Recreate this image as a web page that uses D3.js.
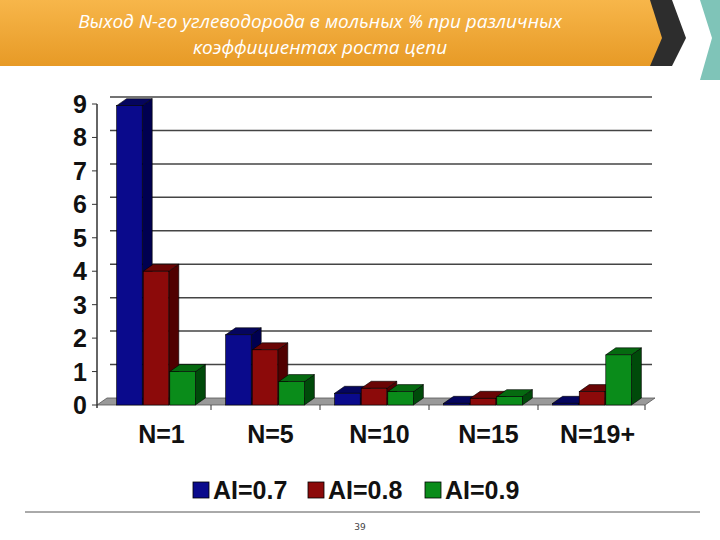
<!DOCTYPE html>
<html><head><meta charset="utf-8">
<script src="https://cdn.jsdelivr.net/npm/d3@7"></script>
<style>body{margin:0;background:#fff}svg{display:block}</style>
</head><body>
<svg id="c" width="720" height="540"></svg>
<script>
const categories = ["N=1", "N=5", "N=10", "N=15", "N=19+"];
const seriesNames = ["Al=0.7", "Al=0.8", "Al=0.9"];
const al07 = [8.95, 2.1, 0.35, 0.05, 0.05];
const al08 = [4.0, 1.65, 0.5, 0.2, 0.4];
const al09 = [1.0, 0.7, 0.4, 0.25, 1.5];
const yTicks = [0, 1, 2, 3, 4, 5, 6, 7, 8, 9];
const colors = [["#0a0a8c", "#000050", "#05055e"], ["#8c0a0a", "#500000", "#6a0505"], ["#0a8c1a", "#004a0a", "#056a10"]];

const svg = d3.select("#c");
const dx = 10, dy = 7;

// header banner
const hdr = svg.append("g");
const grad = svg.append("defs").append("linearGradient").attr("id", "og").attr("x1", 0).attr("y1", 0).attr("x2", 0).attr("y2", 1);
grad.append("stop").attr("offset", 0).attr("stop-color", "#f7b64a");
grad.append("stop").attr("offset", 1).attr("stop-color", "#e79a26");
hdr.append("path").attr("d", "M700,0 L720,0 L720,80 L700,80 L712,38 Z").attr("fill", "#7fc4b8");
hdr.append("path").attr("d", "M640,0 L672,0 L686,38 L672,66 L640,66 L654,38 Z").attr("fill", "#2d2d2d");
hdr.append("path").attr("d", "M0,0 L650,0 L662,38 L650,66 L0,66 Z").attr("fill", "url(#og)");
hdr.append("text").attr("x", 320).attr("y", 28).attr("text-anchor", "middle")
  .attr("font-family", "Open Sans, sans-serif").attr("font-style", "italic").attr("font-size", 19).attr("fill", "#fff")
  .text("Выход N-го углеводорода в мольных % при различных");
hdr.append("text").attr("x", 320).attr("y", 54).attr("text-anchor", "middle")
  .attr("font-family", "Open Sans, sans-serif").attr("font-style", "italic").attr("font-size", 19).attr("fill", "#fff")
  .text("коэффициентах роста цепи");

// scales
const y = d3.scaleLinear().domain([0, 9]).range([405, 104]);
const x = d3.scaleBand().domain(categories).range([102, 647]);
const xs = d3.scaleBand().domain(seriesNames).range([0, x.bandwidth()]).paddingInner(0).paddingOuter(0.55);

// gridlines
svg.append("g").selectAll("line").data(yTicks.filter(d => d > 0)).join("line")
  .attr("x1", 100 + dx).attr("x2", 652).attr("y1", d => y(d) - dy).attr("y2", d => y(d) - dy)
  .attr("stroke", "#444").attr("stroke-width", 1.5);
// floor
svg.append("path").attr("d", `M97,${y(0)} L${645},${y(0)} L${645 + dx},${y(0) - dy} L${97 + dx},${y(0) - dy} Z`)
  .attr("fill", "#999").attr("stroke", "#555").attr("stroke-width", 0.8);
// left axis
svg.append("line").attr("x1", 97).attr("x2", 97).attr("y1", y(9)).attr("y2", y(0) + 3).attr("stroke", "#333").attr("stroke-width", 1.5);
svg.append("g").selectAll("text").data(yTicks).join("text")
  .attr("x", 87).attr("y", d => y(d) + 9).attr("text-anchor", "end")
  .attr("font-family", "Liberation Sans, Arial, sans-serif").attr("font-weight", "bold").attr("font-size", 25).attr("fill", "#111")
  .text(d => d);
svg.append("g").selectAll("line").data(yTicks).join("line")
  .attr("x1", 92).attr("x2", 97).attr("y1", d => y(d)).attr("y2", d => y(d)).attr("stroke", "#333");
// category ticks
svg.append("g").selectAll("line").data(categories.slice(1).map(c => x(c)).concat([645])).join("line")
  .attr("x1", d => d).attr("x2", d => d).attr("y1", y(0)).attr("y2", y(0) + 5).attr("stroke", "#333");

// bars
const series = [al07, al08, al09];
series.forEach((vals, si) => {
  const g = svg.append("g");
  vals.forEach((v, ci) => {
    const x0 = x(categories[ci]) + xs(seriesNames[si]), w = xs.bandwidth() - 1;
    const top = y(v), bot = y(0);
    const [cf, cs, ct] = colors[si];
    g.append("path").attr("d", `M${x0 + w},${top} L${x0 + w + dx},${top - dy} L${x0 + w + dx},${bot - dy} L${x0 + w},${bot} Z`)
      .attr("fill", cs).attr("stroke", "#000").attr("stroke-width", 0.6);
    g.append("path").attr("d", `M${x0},${top} L${x0 + dx},${top - dy} L${x0 + w + dx},${top - dy} L${x0 + w},${top} Z`)
      .attr("fill", ct).attr("stroke", "#000").attr("stroke-width", 0.6);
    g.append("rect").attr("x", x0).attr("y", top).attr("width", w).attr("height", bot - top)
      .attr("fill", cf).attr("stroke", "#000").attr("stroke-width", 0.6);
  });
});

// category labels
svg.append("g").selectAll("text").data(categories).join("text")
  .attr("x", d => x(d) + x.bandwidth() / 2 + 5).attr("y", 443).attr("text-anchor", "middle")
  .attr("font-family", "Liberation Sans, Arial, sans-serif").attr("font-weight", "bold").attr("font-size", 25).attr("fill", "#111")
  .text(d => d);

// legend
const lx = [193, 308, 425];
seriesNames.forEach((n, i) => {
  svg.append("rect").attr("x", lx[i]).attr("y", 482).attr("width", 16).attr("height", 16)
    .attr("fill", colors[i][0]).attr("stroke", "#000").attr("stroke-width", 0.8);
  svg.append("text").attr("x", lx[i] + 20).attr("y", 499)
    .attr("font-family", "Liberation Sans, Arial, sans-serif").attr("font-weight", "bold").attr("font-size", 25).attr("fill", "#111")
    .text(n.replace("Al", "AI"));
});

// footer
svg.append("line").attr("x1", 25).attr("x2", 700).attr("y1", 512).attr("y2", 512).attr("stroke", "#555");
svg.append("text").attr("x", 360).attr("y", 530).attr("text-anchor", "middle")
  .attr("font-family", "DejaVu Sans, sans-serif").attr("font-size", 9).attr("fill", "#444").text("39");
</script>
</body></html>
